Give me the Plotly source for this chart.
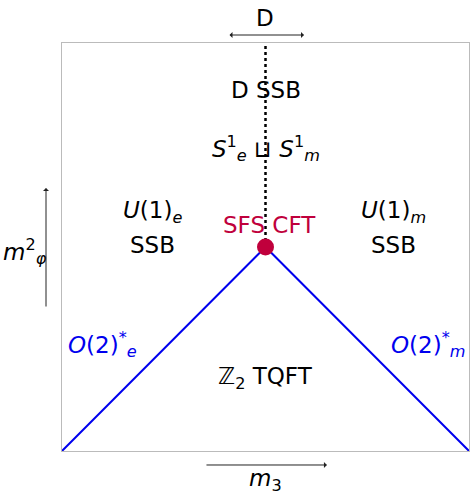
import plotly.graph_objects as go

# Phase boundary data
boundary_x = [-1, 0, 1]
boundary_y = [-1, 0, -1]
dw_x = [0, 0]
dw_y = [0, 1]
cft_x = [0]
cft_y = [0]

# Phase labels (black)
black_labels = ["D SSB",
                "<i>S</i><sup>1</sup><sub><i>e</i></sub> ⊔ <i>S</i><sup>1</sup><sub><i>m</i></sub>",
                "<i>U</i>(1)<sub><i>e</i></sub>", "SSB",
                "<i>U</i>(1)<sub><i>m</i></sub>", "SSB",
                "ℤ<sub>2</sub> TQFT"]
black_x = [0, 0, -0.555, -0.555, 0.627, 0.627, 0]
black_y = [0.77, 0.485, 0.17, 0.01, 0.17, 0.01, -0.64]

blue_labels = ["<i>O</i>(2)<sup>*</sup><sub><i>e</i></sub>",
               "<i>O</i>(2)<sup>*</sup><sub><i>m</i></sub>"]
blue_x = [-0.8, 0.8]
blue_y = [-0.48, -0.48]

cft_label = "SFS CFT"

FONT = "DejaVu Sans"
FS = 23
BLUE = "#0000EE"
RED = "#C0003C"

fig = go.Figure()
fig.add_trace(go.Scatter(x=dw_x, y=dw_y, mode="lines",
                         line=dict(color="black", width=2.5, dash="dot"),
                         hoverinfo="skip", cliponaxis=False))
fig.add_trace(go.Scatter(x=boundary_x, y=boundary_y, mode="lines",
                         line=dict(color=BLUE, width=2),
                         hoverinfo="skip", cliponaxis=False))
fig.add_trace(go.Scatter(x=cft_x, y=cft_y, mode="markers",
                         marker=dict(color=RED, size=17),
                         hoverinfo="skip", cliponaxis=False))

anns = []
for t, x, y in zip(black_labels, black_x, black_y):
    anns.append(dict(x=x, y=y, text=t, showarrow=False,
                     xanchor="center", yanchor="middle",
                     font=dict(family=FONT, size=FS, color="black")))
for t, x, y in zip(blue_labels, blue_x, blue_y):
    anns.append(dict(x=x, y=y, text=t, showarrow=False,
                     xanchor="center", yanchor="middle",
                     font=dict(family=FONT, size=FS, color=BLUE)))
anns.append(dict(x=0.02, y=0.108, text=cft_label, showarrow=False,
                 xanchor="center", yanchor="middle",
                 font=dict(family=FONT, size=FS, color=RED)))

# axis arrows and labels (paper coordinates, outside the frame)
anns.append(dict(x=0.5946, y=1.0196, xref="paper", yref="paper",
                 ax=-76, ay=0, axref="pixel", ayref="pixel", text="",
                 showarrow=True, arrowhead=1, arrowside="end+start",
                 arrowsize=1, arrowwidth=1, arrowcolor="#222"))
anns.append(dict(x=0.4988, y=1.061, xref="paper", yref="paper", text="D",
                 xanchor="center", yanchor="middle",
                 showarrow=False, font=dict(family=FONT, size=FS, color="black")))
anns.append(dict(x=0.651, y=-0.0343, xref="paper", yref="paper",
                 ax=-122, ay=0, axref="pixel", ayref="pixel", text="",
                 showarrow=True, arrowhead=1, arrowsize=1, arrowwidth=1,
                 arrowcolor="#222"))
anns.append(dict(x=0.4988, y=-0.07, xref="paper", yref="paper",
                 xanchor="center", yanchor="middle",
                 text="<i>m</i><sub>3</sub>", showarrow=False,
                 font=dict(family=FONT, size=FS, color="black")))
anns.append(dict(x=-0.0393, y=0.6446, xref="paper", yref="paper",
                 ax=0, ay=120, axref="pixel", ayref="pixel", text="",
                 showarrow=True, arrowhead=1, arrowsize=1, arrowwidth=1,
                 arrowcolor="#222"))
anns.append(dict(x=-0.09, y=0.49, xref="paper", yref="paper",
                 xanchor="center", yanchor="middle",
                 text="<i>m</i><sup>2</sup><sub><i>φ</i></sub>", showarrow=False,
                 font=dict(family=FONT, size=FS, color="black")))

fig.update_layout(
    width=470, height=495,
    margin=dict(l=62, r=1, t=43, b=44),
    plot_bgcolor="white", paper_bgcolor="white",
    showlegend=False,
    annotations=anns,
    xaxis=dict(range=[-1, 1], showgrid=False, zeroline=False, showticklabels=False,
               ticks="", showline=True, mirror=True, linecolor="#BBBBBB", linewidth=1),
    yaxis=dict(range=[-1, 1], showgrid=False, zeroline=False, showticklabels=False,
               ticks="", showline=True, mirror=True, linecolor="#BBBBBB", linewidth=1),
)
fig.write_html("out.html", config={"displayModeBar": False},
               post_script="document.body.style.margin='0';document.body.style.overflow='hidden';")
